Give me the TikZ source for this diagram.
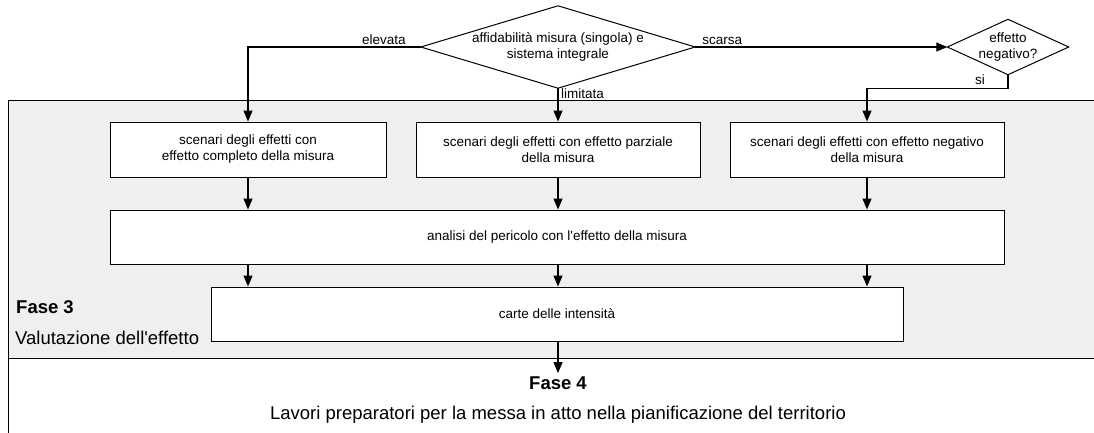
\documentclass[tikz,border=0pt]{standalone}
\usepackage{fontspec}
\setmainfont{Liberation Sans}
\usetikzlibrary{arrows.meta}
\definecolor{panel}{HTML}{EFEFEF}

\begin{document}
\begin{tikzpicture}[x=1pt,y=-1pt,
  every node/.style={font=\fontsize{13.5}{16}\selectfont},
  box/.style={draw, fill=white, line width=1pt, minimum height=55pt, align=center, inner sep=0pt},
  question/.style={inner sep=0pt, align=center},
  outline/.style={draw, fill=white, line width=1pt, line join=miter},
  flow/.style={draw, line width=1.2pt, -{Triangle[length=11pt,width=9pt]}},
  lbl/.style={inner sep=0pt},
  phasetitle/.style={inner sep=0pt, font=\fontsize{18.5}{22}\selectfont\bfseries},
  phasetext/.style={inner sep=0pt, font=\fontsize{18.5}{22}\selectfont},
]
\useasboundingbox (0,0) rectangle (1094,432);

% phase panels
\begin{scope}
  \clip (0,0) rectangle (1094,432);
  \draw[fill=panel, line width=1pt] (8,100) rectangle (1110,358);
  \draw[fill=white, line width=1pt] (8,358) rectangle (1110,450);
\end{scope}

% decisions
\node[question, minimum width=274pt, minimum height=82pt] (d1) at (558,47) {};
\path[outline] (d1.west) -- (d1.north) -- (d1.east) -- (d1.south) -- cycle;
\node[question] at (d1.center) {affidabilità misura (singola) e\\sistema integrale};

\node[question, minimum width=121pt, minimum height=55pt] (d2) at (1008,47) {};
\path[outline] (d2.west) -- (d2.north) -- (d2.east) -- (d2.south) -- cycle;
\node[question] at (d2.center) {effetto\\negativo?};

% process boxes
\node[box, minimum width=276pt] (b1) at (248,149.5) {scenari degli effetti con\\effetto completo della misura};
\node[box, minimum width=284pt] (b2) at (558,149.5) {scenari degli effetti con effetto parziale\\della misura};
\node[box, minimum width=274pt] (b3) at (867,149.5) {scenari degli effetti con effetto negativo\\della misura};
\node[box, minimum width=894pt, minimum height=54pt] (b4) at (557,237) {analisi del pericolo con l\textquotesingle effetto della misura};
\node[box, minimum width=692pt, minimum height=54pt] (b5) at (557,314) {carte delle intensità};

% phase labels
\node[phasetitle, anchor=base west] (f3) at (16,313) {Fase 3};
\node[phasetext, anchor=base west] (f3t) at (15,344) {Valutazione dell\textquotesingle effetto};
\node[phasetitle, anchor=base] (f4) at (558,389) {Fase 4};
\node[phasetext, anchor=base] (f4t) at (558,419) {Lavori preparatori per la messa in atto nella pianificazione del territorio};

% connectors
\coordinate (k) at ([yshift=-14pt]d2.south);
\draw[flow] (d1.west) -| (b1.north);
\draw[flow] (d1.south) -- (b2.north);
\draw[flow] (d1.east) -- (d2.west);
\draw[flow] (d2.south) -- (k) -| (b3.north);

\foreach \b in {b1,b2,b3} {
  \draw[flow] (\b.south) -- (\b.south |- b4.north);
  \draw[flow] (b4.south -| \b.south) -- (b5.north -| \b.south);
}
\draw[flow] (b5.south -| b2.south) -- ([yshift=3pt]f4.north);

% branch labels
\node[lbl, anchor=base east] at ([xshift=-15pt,yshift=2.5pt]d1.west) {elevata};
\node[lbl, anchor=base west] at ([xshift=7pt,yshift=2.5pt]d1.east) {scarsa};
\node[lbl, anchor=base west] at ([xshift=3pt,yshift=-10pt]d1.south) {limitata};
\node[lbl, anchor=base east] at ([xshift=-23pt,yshift=-10pt]d2.south) {si};
\end{tikzpicture}
\end{document}
